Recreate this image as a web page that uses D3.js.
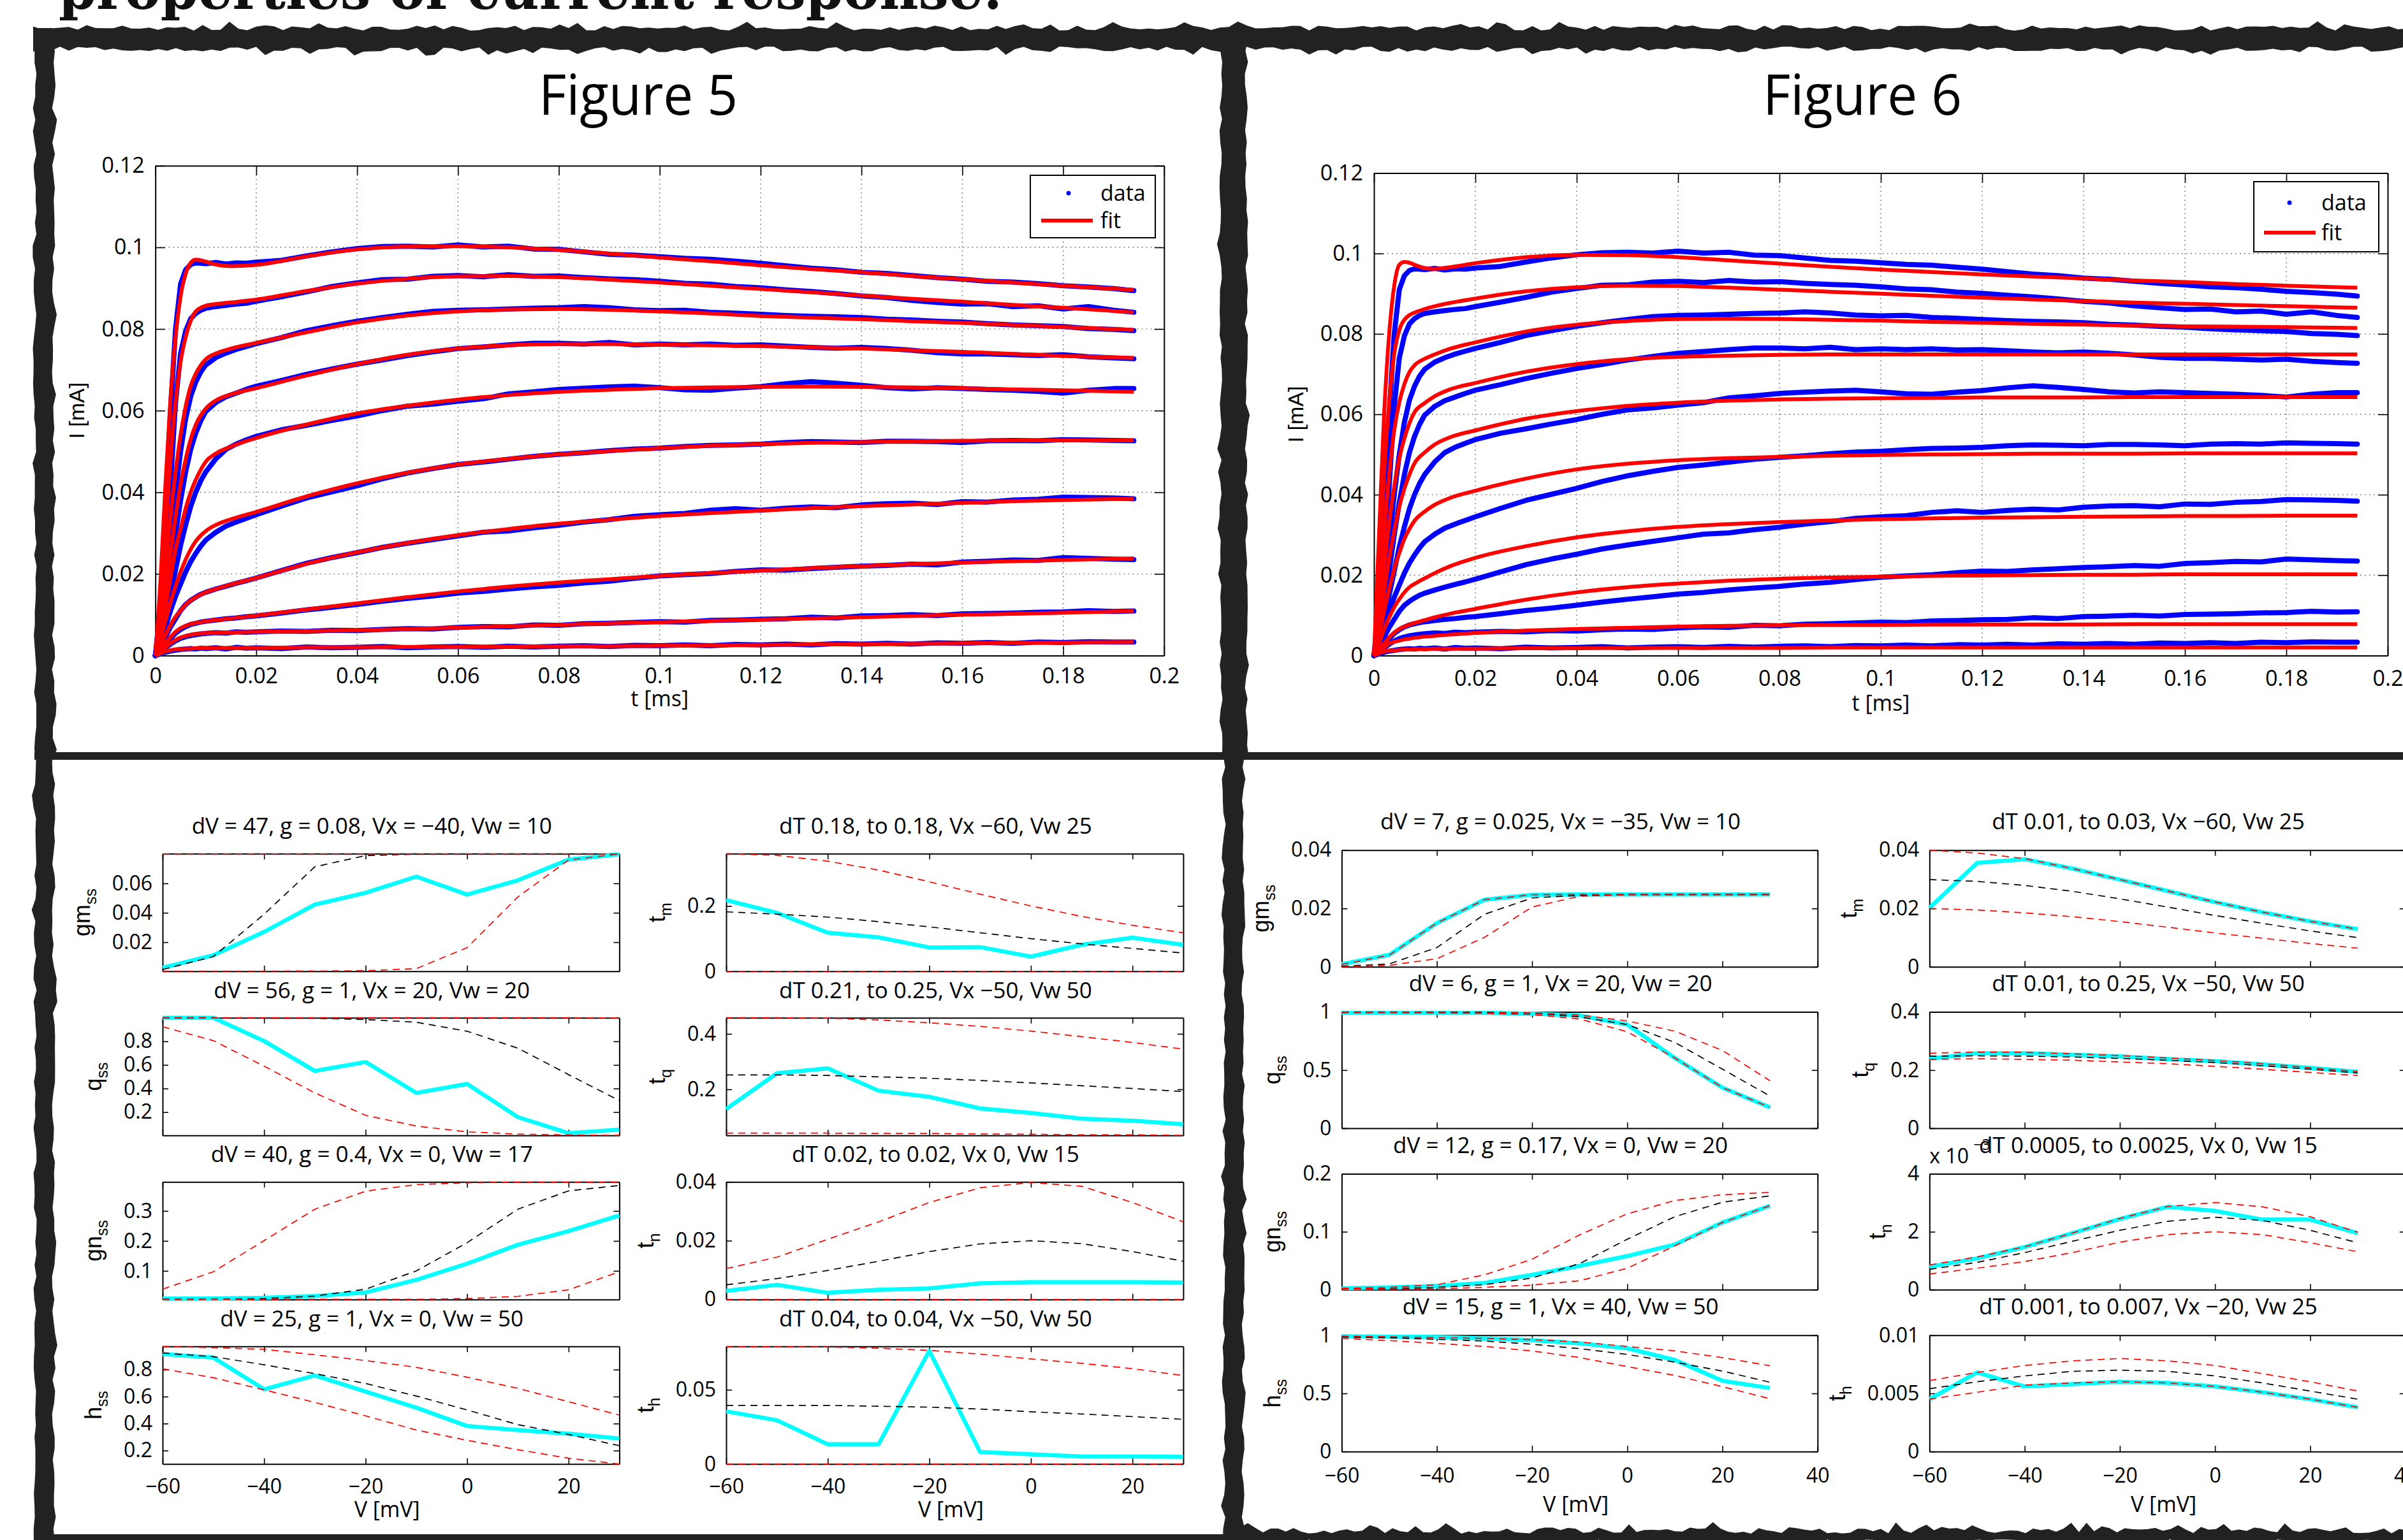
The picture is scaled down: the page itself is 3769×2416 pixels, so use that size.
<!DOCTYPE html>
<html><head><meta charset="utf-8">
<script src="https://cdn.jsdelivr.net/npm/d3@7"></script>
<style>html,body{margin:0;padding:0;background:#fff;overflow:hidden;}svg{display:block;}</style>
</head><body>
<svg id="chart" width="3769" height="2416"></svg>
<script>
// ======================= DATA =======================
const pageTitle = "properties of current response:";
const figTitles = ["Figure 5", "Figure 6"];
const legendLabels = ["data", "fit"];
const tTicks = [0, 0.02, 0.04, 0.06, 0.08, 0.1, 0.12, 0.14, 0.16, 0.18, 0.2];
const iTicks = [0, 0.02, 0.04, 0.06, 0.08, 0.1, 0.12];

// time grid of the measured traces
const timeData = [0, 0.001, 0.002, 0.003, 0.004, 0.005, 0.006, 0.007, 0.008, 0.009, 0.01, 0.012, 0.014, 0.016, 0.018, 0.02,
  0.025, 0.03, 0.035, 0.04, 0.045, 0.05, 0.055, 0.06, 0.065, 0.07, 0.075, 0.08, 0.085, 0.09, 0.095, 0.1, 0.105, 0.11, 0.115, 0.12, 0.125, 0.13, 0.135, 0.14, 0.145, 0.15, 0.155, 0.16, 0.165, 0.17, 0.175, 0.18, 0.185, 0.19,
  0.194];
// measured current traces (same data in both figures)
const data1 = [0, 0.012, 0.035, 0.060, 0.080, 0.091, 0.0945, 0.0958, 0.0962, 0.0961, 0.0960, 0.0963, 0.0959, 0.0962, 0.0961, 0.0964,
  0.0968, 0.0979, 0.0989, 0.0997, 0.1002, 0.1003, 0.1001, 0.1006, 0.1001, 0.1003, 0.0996, 0.0995, 0.0989, 0.0983, 0.0981, 0.0977, 0.0973, 0.0971, 0.0966, 0.0961, 0.0955, 0.0949, 0.0945, 0.0939, 0.0936, 0.0931, 0.0926, 0.0922, 0.0917, 0.0915, 0.0911, 0.0906, 0.0903, 0.0899,
  0.0894];
const data2 = [0, 0.008, 0.022, 0.042, 0.062, 0.074, 0.0795, 0.0825, 0.0838, 0.0846, 0.0851, 0.0855, 0.0858, 0.0861, 0.0863, 0.0868,
  0.0879, 0.0891, 0.0904, 0.0913, 0.0921, 0.0922, 0.0929, 0.0931, 0.0928, 0.0933, 0.0929, 0.0930, 0.0926, 0.0923, 0.0921, 0.0917, 0.0912, 0.0910, 0.0904, 0.0901, 0.0896, 0.0892, 0.0887, 0.0881, 0.0877, 0.0870, 0.0865, 0.0861, 0.0862, 0.0855, 0.0857, 0.0849, 0.0855, 0.0846,
  0.0841];
const data3 = [0, 0.006, 0.016, 0.028, 0.040, 0.050, 0.058, 0.0635, 0.0670, 0.0695, 0.0712, 0.0730, 0.0741, 0.0750, 0.0757, 0.0764,
  0.0779, 0.0796, 0.0808, 0.0819, 0.0828, 0.0836, 0.0843, 0.0846, 0.0847, 0.0849, 0.0851, 0.0852, 0.0855, 0.0852, 0.0847, 0.0845, 0.0846, 0.0841, 0.0839, 0.0836, 0.0833, 0.0831, 0.0830, 0.0828, 0.0824, 0.0822, 0.0819, 0.0817, 0.0813, 0.0810, 0.0808, 0.0806, 0.0801, 0.0799,
  0.0796];
const data4 = [0, 0.005, 0.012, 0.021, 0.030, 0.038, 0.045, 0.0505, 0.0545, 0.0575, 0.0598, 0.0620, 0.0634, 0.0643, 0.0652, 0.0660,
  0.0674, 0.0689, 0.0702, 0.0714, 0.0724, 0.0735, 0.0744, 0.0752, 0.0756, 0.0761, 0.0765, 0.0765, 0.0763, 0.0767, 0.0761, 0.0763, 0.0761, 0.0763, 0.0760, 0.0761, 0.0758, 0.0755, 0.0753, 0.0755, 0.0752, 0.0748, 0.0742, 0.0739, 0.0739, 0.0737, 0.0735, 0.0737, 0.0732, 0.0729,
  0.0727];
const data5 = [0, 0.004, 0.009, 0.015, 0.021, 0.027, 0.032, 0.0365, 0.0400, 0.0428, 0.0450, 0.0482, 0.0505, 0.0518, 0.0528, 0.0537,
  0.0553, 0.0564, 0.0576, 0.0587, 0.0600, 0.0611, 0.0616, 0.0623, 0.0629, 0.0641, 0.0646, 0.0652, 0.0655, 0.0658, 0.0660, 0.0656, 0.0651, 0.0650, 0.0655, 0.0659, 0.0666, 0.0671, 0.0667, 0.0662, 0.0656, 0.0653, 0.0656, 0.0654, 0.0652, 0.0650, 0.0647, 0.0643, 0.0650, 0.0654,
  0.0654];
const data6 = [0, 0.003, 0.007, 0.011, 0.0145, 0.0175, 0.0205, 0.023, 0.025, 0.0268, 0.0283, 0.0302, 0.0317, 0.0327, 0.0336, 0.0345,
  0.0366, 0.0386, 0.0401, 0.0416, 0.0433, 0.0447, 0.0458, 0.0468, 0.0474, 0.0481, 0.0488, 0.0493, 0.0497, 0.0502, 0.0506, 0.0508, 0.0512, 0.0515, 0.0516, 0.0518, 0.0522, 0.0524, 0.0523, 0.0522, 0.0525, 0.0525, 0.0524, 0.0522, 0.0526, 0.0527, 0.0526, 0.0529, 0.0528, 0.0527,
  0.0526];
const data7 = [0, 0.002, 0.0045, 0.007, 0.009, 0.011, 0.0125, 0.0135, 0.0143, 0.0150, 0.0155, 0.0163, 0.0170, 0.0177, 0.0183, 0.0190,
  0.0208, 0.0226, 0.0240, 0.0252, 0.0265, 0.0275, 0.0284, 0.0293, 0.0302, 0.0305, 0.0313, 0.0319, 0.0327, 0.0333, 0.0341, 0.0345, 0.0348, 0.0356, 0.0360, 0.0356, 0.0361, 0.0364, 0.0362, 0.0369, 0.0372, 0.0373, 0.0370, 0.0377, 0.0376, 0.0381, 0.0383, 0.0388, 0.0387, 0.0386,
  0.0384];
const data8 = [0, 0.0012, 0.0028, 0.0042, 0.0055, 0.0064, 0.0071, 0.0076, 0.0079, 0.0082, 0.0084, 0.0087, 0.0090, 0.0092, 0.0095, 0.0097,
  0.0104, 0.0112, 0.0118, 0.0125, 0.0133, 0.0140, 0.0146, 0.0153, 0.0157, 0.0163, 0.0168, 0.0172, 0.0178, 0.0182, 0.0189, 0.0195, 0.0198, 0.0201, 0.0206, 0.0210, 0.0209, 0.0213, 0.0216, 0.0219, 0.0221, 0.0224, 0.0222, 0.0229, 0.0231, 0.0234, 0.0233, 0.0240, 0.0238, 0.0236,
  0.0235];
const data9 = [0, 0.0009, 0.0019, 0.0028, 0.0036, 0.0042, 0.0046, 0.0049, 0.0051, 0.0053, 0.0054, 0.0056, 0.0055, 0.0058, 0.0057, 0.0058,
  0.0060, 0.0059, 0.0062, 0.0061, 0.0064, 0.0066, 0.0065, 0.0069, 0.0071, 0.0070, 0.0075, 0.0074, 0.0078, 0.0079, 0.0081, 0.0083, 0.0082, 0.0086, 0.0087, 0.0089, 0.0090, 0.0094, 0.0092, 0.0097, 0.0098, 0.0100, 0.0098, 0.0102, 0.0103, 0.0104, 0.0106, 0.0107, 0.0110, 0.0108,
  0.0109];
const data10 = [0, 0.0004, 0.0008, 0.0011, 0.0013, 0.0015, 0.0016, 0.0017, 0.0016, 0.0018, 0.0017, 0.0019, 0.0016, 0.0020, 0.0018, 0.0019,
  0.0017, 0.0021, 0.0019, 0.0020, 0.0022, 0.0019, 0.0021, 0.0022, 0.0020, 0.0023, 0.0021, 0.0023, 0.0024, 0.0022, 0.0025, 0.0024, 0.0026, 0.0024, 0.0027, 0.0026, 0.0028, 0.0026, 0.0029, 0.0028, 0.0030, 0.0028, 0.0031, 0.0030, 0.0032, 0.0030, 0.0033, 0.0032, 0.0034, 0.0033,
  0.0033];

// time grid of the fitted curves
const timeFit = [0, 0.001, 0.002, 0.003, 0.004, 0.005, 0.006, 0.007, 0.008, 0.01, 0.012, 0.015, 0.02, 0.03, 0.04, 0.05, 0.06, 0.07, 0.08, 0.09, 0.1, 0.11, 0.12, 0.13, 0.14, 0.15, 0.16, 0.17, 0.18, 0.194];
// Figure 5 fits
const fitA1 = [0, 0.018, 0.042, 0.063, 0.078, 0.088, 0.0935, 0.0962, 0.0970, 0.0965, 0.0958, 0.0954, 0.0957, 0.0978, 0.0995, 0.1002, 0.1003, 0.1000, 0.0994, 0.0985, 0.0975, 0.0966, 0.0956, 0.0947, 0.0939, 0.0930, 0.0922, 0.0914, 0.0906, 0.0896];
const fitA2 = [0, 0.012, 0.030, 0.048, 0.062, 0.072, 0.078, 0.082, 0.0843, 0.0857, 0.0861, 0.0865, 0.0872, 0.0893, 0.0911, 0.0923, 0.0929, 0.0930, 0.0927, 0.0921, 0.0914, 0.0906, 0.0898, 0.0890, 0.0882, 0.0874, 0.0867, 0.0859, 0.0852, 0.0841];
const fitA3 = [0, 0.008, 0.021, 0.034, 0.045, 0.054, 0.061, 0.066, 0.069, 0.0726, 0.0740, 0.0752, 0.0766, 0.0792, 0.0816, 0.0833, 0.0843, 0.0848, 0.0849, 0.0847, 0.0843, 0.0838, 0.0832, 0.0828, 0.0824, 0.0819, 0.0815, 0.0810, 0.0805, 0.0798];
const fitA4 = [0, 0.006, 0.015, 0.025, 0.034, 0.042, 0.048, 0.053, 0.0565, 0.0605, 0.0625, 0.0640, 0.0655, 0.0686, 0.0714, 0.0737, 0.0752, 0.0760, 0.0763, 0.0763, 0.0762, 0.0760, 0.0758, 0.0755, 0.0752, 0.0748, 0.0744, 0.0739, 0.0734, 0.0729];
const fitA5 = [0, 0.005, 0.012, 0.019, 0.026, 0.031, 0.036, 0.040, 0.043, 0.0475, 0.0495, 0.0512, 0.0533, 0.0566, 0.0593, 0.0612, 0.0627, 0.0638, 0.0646, 0.0651, 0.0655, 0.0657, 0.0658, 0.0659, 0.0658, 0.0657, 0.0655, 0.0652, 0.0650, 0.0646];
const fitA6 = [0, 0.004, 0.0085, 0.013, 0.017, 0.0205, 0.0235, 0.026, 0.028, 0.0305, 0.032, 0.0334, 0.0352, 0.0390, 0.0422, 0.0448, 0.0468, 0.0482, 0.0493, 0.0501, 0.0508, 0.0514, 0.0518, 0.0521, 0.0523, 0.0525, 0.0526, 0.0527, 0.0527, 0.0527];
const fitA7 = [0, 0.0025, 0.005, 0.0075, 0.0095, 0.011, 0.0125, 0.0135, 0.0143, 0.0155, 0.0163, 0.0174, 0.0190, 0.0225, 0.0253, 0.0276, 0.0295, 0.0310, 0.0323, 0.0333, 0.0342, 0.0349, 0.0355, 0.0361, 0.0366, 0.0370, 0.0374, 0.0378, 0.0381, 0.0384];
const fitA8 = [0, 0.0015, 0.003, 0.0045, 0.0058, 0.0067, 0.0073, 0.0077, 0.0080, 0.0084, 0.0087, 0.0091, 0.0098, 0.0113, 0.0128, 0.0143, 0.0157, 0.0169, 0.0179, 0.0187, 0.0195, 0.0202, 0.0208, 0.0214, 0.0219, 0.0224, 0.0228, 0.0231, 0.0234, 0.0238];
const fitA9 = [0, 0.001, 0.002, 0.003, 0.0038, 0.0044, 0.0048, 0.0051, 0.0053, 0.0055, 0.0056, 0.0057, 0.0058, 0.0060, 0.0062, 0.0065, 0.0068, 0.0072, 0.0075, 0.0079, 0.0082, 0.0085, 0.0088, 0.0091, 0.0094, 0.0097, 0.0100, 0.0102, 0.0105, 0.0109];
const fitA10 = [0, 0.0005, 0.001, 0.0013, 0.0015, 0.0016, 0.0017, 0.0017, 0.0018, 0.0018, 0.0018, 0.0019, 0.0019, 0.0020, 0.0020, 0.0021, 0.0021, 0.0022, 0.0023, 0.0023, 0.0024, 0.0025, 0.0026, 0.0027, 0.0028, 0.0029, 0.0030, 0.0031, 0.0032, 0.0033];
// Figure 6 fits
const fitB1 = [0, 0.030, 0.060, 0.080, 0.092, 0.0972, 0.0979, 0.0977, 0.0972, 0.0964, 0.0962, 0.0966, 0.0976, 0.0991, 0.0997, 0.0996, 0.0991, 0.0983, 0.0975, 0.0967, 0.0960, 0.0954, 0.0948, 0.0943, 0.0938, 0.0933, 0.0929, 0.0924, 0.0920, 0.0915];
const fitB2 = [0, 0.020, 0.045, 0.063, 0.075, 0.081, 0.0835, 0.0847, 0.0853, 0.0862, 0.0869, 0.0877, 0.0888, 0.0906, 0.0916, 0.0920, 0.0919, 0.0915, 0.0910, 0.0905, 0.0900, 0.0895, 0.0890, 0.0886, 0.0882, 0.0878, 0.0875, 0.0872, 0.0869, 0.0865];
const fitB3 = [0, 0.012, 0.030, 0.045, 0.056, 0.063, 0.0675, 0.0705, 0.0722, 0.0738, 0.0749, 0.0763, 0.0779, 0.0806, 0.0823, 0.0832, 0.0837, 0.0838, 0.0837, 0.0835, 0.0833, 0.0830, 0.0828, 0.0825, 0.0823, 0.0821, 0.0819, 0.0818, 0.0817, 0.0815];
const fitB4 = [0, 0.010, 0.022, 0.033, 0.042, 0.049, 0.054, 0.0578, 0.0605, 0.0628, 0.0645, 0.0662, 0.0678, 0.0706, 0.0725, 0.0737, 0.0743, 0.0746, 0.0748, 0.0749, 0.0749, 0.0749, 0.0749, 0.0749, 0.0749, 0.0749, 0.0749, 0.0749, 0.0749, 0.0749];
const fitB5 = [0, 0.007, 0.016, 0.024, 0.031, 0.037, 0.0415, 0.045, 0.0478, 0.0505, 0.0525, 0.0543, 0.0560, 0.0589, 0.0608, 0.0621, 0.0629, 0.0634, 0.0637, 0.0639, 0.0640, 0.0641, 0.0642, 0.0642, 0.0642, 0.0643, 0.0643, 0.0643, 0.0643, 0.0643];
const fitB6 = [0, 0.005, 0.011, 0.0165, 0.0215, 0.0255, 0.029, 0.0315, 0.0335, 0.0358, 0.0375, 0.0392, 0.0410, 0.0440, 0.0463, 0.0477, 0.0486, 0.0491, 0.0494, 0.0497, 0.0499, 0.0500, 0.0501, 0.0502, 0.0502, 0.0502, 0.0503, 0.0503, 0.0503, 0.0503];
const fitB7 = [0, 0.003, 0.0065, 0.0095, 0.012, 0.014, 0.0157, 0.017, 0.0178, 0.0192, 0.0205, 0.0222, 0.0243, 0.0272, 0.0294, 0.0309, 0.0320, 0.0327, 0.0332, 0.0336, 0.0339, 0.0341, 0.0343, 0.0344, 0.0345, 0.0346, 0.0347, 0.0347, 0.0348, 0.0348];
const fitB8 = [0, 0.0015, 0.003, 0.0045, 0.0057, 0.0066, 0.0072, 0.0077, 0.0081, 0.0088, 0.0095, 0.0104, 0.0116, 0.0139, 0.0157, 0.0170, 0.0179, 0.0186, 0.0191, 0.0194, 0.0196, 0.0198, 0.0199, 0.0200, 0.0201, 0.0201, 0.0202, 0.0202, 0.0202, 0.0202];
const fitB9 = [0, 0.001, 0.002, 0.003, 0.0034, 0.0037, 0.0040, 0.0042, 0.0044, 0.0047, 0.0049, 0.0052, 0.0056, 0.0062, 0.0066, 0.0069, 0.0072, 0.0074, 0.0075, 0.0076, 0.0076, 0.0077, 0.0077, 0.0077, 0.0077, 0.0078, 0.0078, 0.0078, 0.0078, 0.0078];
const fitB10 = [0, 0.0005, 0.001, 0.0012, 0.0013, 0.0014, 0.0015, 0.0015, 0.0016, 0.0016, 0.0017, 0.0017, 0.0017, 0.0018, 0.0018, 0.0019, 0.0019, 0.0019, 0.0019, 0.0020, 0.0020, 0.0020, 0.0020, 0.0020, 0.0020, 0.0020, 0.0020, 0.0020, 0.0020, 0.0020];

// steady-state / time-constant panels
const volts = [-60, -50, -40, -30, -20, -10, 0, 10, 20, 30];
const vTicks5 = [-60, -40, -20, 0, 20];
const vTicks6 = [-60, -40, -20, 0, 20, 40];

const gm5Cyan = [0.0026, 0.0111, 0.0270, 0.0456, 0.0536, 0.0646, 0.0524, 0.0621, 0.0762, 0.0798];
const gm5Black = [0.0014, 0.0102, 0.0390, 0.0713, 0.0789, 0.0799, 0.0800, 0.0800, 0.0800, 0.0800];
const gm5RedHi = [0.0800, 0.0800, 0.0800, 0.0800, 0.0800, 0.0800, 0.0800, 0.0800, 0.0800, 0.0800];
const gm5RedLo = [0.0003, 0.0003, 0.0003, 0.0004, 0.0006, 0.0020, 0.0163, 0.0508, 0.0759, 0.0800];
const q5Cyan = [1.000, 1.000, 0.803, 0.549, 0.625, 0.363, 0.439, 0.158, 0.022, 0.052];
const q5Black = [1.000, 1.000, 0.997, 0.996, 0.985, 0.962, 0.886, 0.742, 0.518, 0.298];
const q5RedHi = [1.000, 1.000, 1.000, 1.000, 1.000, 1.000, 1.000, 1.000, 1.000, 0.999];
const q5RedLo = [0.924, 0.806, 0.590, 0.363, 0.173, 0.082, 0.033, 0.014, 0.006, 0.003];
const gn5Cyan = [0.0075, 0.0080, 0.0100, 0.0160, 0.0280, 0.0700, 0.1240, 0.1870, 0.2330, 0.2850];
const gn5Black = [0.0050, 0.0055, 0.0075, 0.0160, 0.0390, 0.1000, 0.1940, 0.3060, 0.3670, 0.3850];
const gn5RedHi = [0.0390, 0.0970, 0.2010, 0.3060, 0.3660, 0.3880, 0.3940, 0.3960, 0.3960, 0.3960];
const gn5RedLo = [0.0050, 0.0050, 0.0050, 0.0050, 0.0050, 0.0050, 0.0075, 0.0150, 0.0370, 0.0970];
const h5Cyan = [0.916, 0.889, 0.654, 0.757, 0.637, 0.518, 0.382, 0.352, 0.325, 0.289];
const h5Black = [0.923, 0.896, 0.836, 0.770, 0.697, 0.604, 0.501, 0.392, 0.319, 0.236];
const h5RedHi = [0.972, 0.963, 0.950, 0.910, 0.867, 0.817, 0.744, 0.661, 0.562, 0.463];
const h5RedLo = [0.806, 0.740, 0.650, 0.557, 0.457, 0.352, 0.276, 0.206, 0.143, 0.100];
const tm5Cyan = [0.218, 0.179, 0.118, 0.104, 0.073, 0.074, 0.045, 0.081, 0.103, 0.081];
const tm5Black = [0.182, 0.175, 0.166, 0.152, 0.136, 0.118, 0.100, 0.084, 0.070, 0.056];
const tm5RedHi = [0.360, 0.355, 0.337, 0.310, 0.274, 0.236, 0.200, 0.168, 0.141, 0.118];
const tm5RedLo = [0, 0, 0, 0, 0, 0, 0, 0, 0, 0];
const tq5Cyan = [0.129, 0.258, 0.276, 0.195, 0.173, 0.131, 0.115, 0.094, 0.087, 0.074];
const tq5Black = [0.252, 0.252, 0.250, 0.245, 0.240, 0.232, 0.223, 0.213, 0.203, 0.192];
const tq5RedHi = [0.458, 0.458, 0.457, 0.450, 0.440, 0.427, 0.410, 0.390, 0.369, 0.345];
const tq5RedLo = [0.042, 0.042, 0.042, 0.041, 0.041, 0.039, 0.038, 0.036, 0.036, 0.034];
const tn5Cyan = [0.0029, 0.0050, 0.0023, 0.0033, 0.0038, 0.0055, 0.0059, 0.0059, 0.0059, 0.0058];
const tn5Black = [0.0050, 0.0071, 0.0099, 0.0130, 0.0163, 0.0189, 0.0200, 0.0190, 0.0163, 0.0130];
const tn5RedHi = [0.0105, 0.0144, 0.0205, 0.0264, 0.0330, 0.0380, 0.0398, 0.0385, 0.0330, 0.0264];
const tn5RedLo = [0, 0, 0, 0, 0, 0, 0, 0, 0, 0];
const th5Cyan = [0.0355, 0.0295, 0.0133, 0.0133, 0.0762, 0.0081, 0.0066, 0.0051, 0.0051, 0.0048];
const th5Black = [0.0395, 0.0395, 0.0395, 0.0389, 0.0383, 0.0370, 0.0352, 0.0337, 0.0319, 0.0301];
const th5RedHi = [0.0790, 0.0790, 0.0788, 0.0780, 0.0765, 0.0740, 0.0708, 0.0678, 0.0642, 0.0596];
const th5RedLo = [0, 0, 0, 0, 0, 0, 0, 0, 0, 0];

const gm6Cyan = [0.0009, 0.0041, 0.0150, 0.0230, 0.0247, 0.0248, 0.0248, 0.0248, 0.0248, 0.0248];
const gm6Black = [0.0002, 0.0010, 0.0066, 0.0180, 0.0236, 0.0245, 0.0248, 0.0248, 0.0248, 0.0248];
const gm6RedHi = [0.0008, 0.0040, 0.0150, 0.0230, 0.0247, 0.0248, 0.0248, 0.0248, 0.0248, 0.0248];
const gm6RedLo = [0.0000, 0.0005, 0.0028, 0.0101, 0.0205, 0.0242, 0.0247, 0.0248, 0.0248, 0.0248];
const q6Cyan = [0.992, 0.992, 0.992, 0.992, 0.985, 0.970, 0.892, 0.604, 0.350, 0.180];
const q6Black = [0.996, 0.996, 0.995, 0.994, 0.990, 0.958, 0.892, 0.738, 0.508, 0.277];
const q6RedHi = [1.000, 1.000, 1.000, 1.000, 0.992, 0.973, 0.923, 0.835, 0.669, 0.408];
const q6RedLo = [0.996, 0.995, 0.993, 0.988, 0.977, 0.940, 0.830, 0.604, 0.350, 0.180];
const gn6Cyan = [0.0023, 0.0039, 0.0062, 0.0116, 0.0255, 0.0410, 0.0580, 0.0780, 0.1160, 0.1450];
const gn6Black = [0.0010, 0.0015, 0.0040, 0.0085, 0.0200, 0.0450, 0.0870, 0.1260, 0.1510, 0.1620];
const gn6RedHi = [0.0023, 0.0039, 0.0085, 0.0255, 0.0525, 0.0946, 0.1310, 0.1540, 0.1640, 0.1680];
const gn6RedLo = [0.0010, 0.0010, 0.0015, 0.0040, 0.0077, 0.0154, 0.0370, 0.0757, 0.1160, 0.1450];
const h6Cyan = [0.992, 0.988, 0.985, 0.973, 0.958, 0.931, 0.888, 0.788, 0.608, 0.546];
const h6Black = [0.985, 0.978, 0.965, 0.950, 0.923, 0.885, 0.835, 0.769, 0.692, 0.596];
const h6RedHi = [0.992, 0.988, 0.980, 0.973, 0.962, 0.942, 0.904, 0.865, 0.808, 0.738];
const h6RedLo = [0.973, 0.954, 0.931, 0.904, 0.865, 0.808, 0.731, 0.654, 0.558, 0.454];
const tm6Cyan = [0.0202, 0.0356, 0.0369, 0.0337, 0.0299, 0.0260, 0.0222, 0.0187, 0.0156, 0.0129];
const tm6Black = [0.0299, 0.0293, 0.0279, 0.0259, 0.0233, 0.0205, 0.0176, 0.0149, 0.0123, 0.0100];
const tm6RedHi = [0.0400, 0.0390, 0.0371, 0.0337, 0.0299, 0.0260, 0.0222, 0.0187, 0.0156, 0.0129];
const tm6RedLo = [0.0200, 0.0195, 0.0185, 0.0172, 0.0155, 0.0136, 0.0116, 0.0098, 0.0080, 0.0064];
const tq6Cyan = [0.239, 0.258, 0.258, 0.253, 0.247, 0.238, 0.231, 0.220, 0.208, 0.194];
const tq6Black = [0.248, 0.249, 0.248, 0.245, 0.240, 0.234, 0.226, 0.215, 0.203, 0.190];
const tq6RedHi = [0.258, 0.262, 0.261, 0.256, 0.250, 0.242, 0.233, 0.222, 0.208, 0.195];
const tq6RedLo = [0.237, 0.239, 0.237, 0.234, 0.228, 0.222, 0.213, 0.203, 0.192, 0.181];
const tn6Cyan = [0.00079, 0.00108, 0.00147, 0.00195, 0.00244, 0.00286, 0.00272, 0.00242, 0.00242, 0.00195];
const tn6Black = [0.00070, 0.00094, 0.00128, 0.00167, 0.00205, 0.00236, 0.00250, 0.00239, 0.00205, 0.00162];
const tn6RedHi = [0.00085, 0.00113, 0.00148, 0.00195, 0.00246, 0.00287, 0.00301, 0.00286, 0.00252, 0.00198];
const tn6RedLo = [0.00054, 0.00074, 0.00097, 0.00128, 0.00164, 0.00190, 0.00200, 0.00190, 0.00162, 0.00131];
const th6Cyan = [0.0045, 0.0068, 0.0056, 0.0058, 0.0060, 0.0059, 0.0056, 0.0051, 0.0045, 0.0038];
const th6Black = [0.0054, 0.0060, 0.0065, 0.0069, 0.0070, 0.0069, 0.0065, 0.0059, 0.0052, 0.0045];
const th6RedHi = [0.0061, 0.0068, 0.0074, 0.0078, 0.0080, 0.0078, 0.0074, 0.0067, 0.0060, 0.0052];
const th6RedLo = [0.0045, 0.0051, 0.0057, 0.0059, 0.0060, 0.0059, 0.0056, 0.0051, 0.0045, 0.0038];

const titles5 = ["dV = 47, g = 0.08, Vx = \u221240, Vw = 10", "dV = 56, g = 1, Vx = 20, Vw = 20", "dV = 40, g = 0.4, Vx = 0, Vw = 17", "dV = 25, g = 1, Vx = 0, Vw = 50",
  "dT 0.18, to 0.18, Vx \u221260, Vw 25", "dT 0.21, to 0.25, Vx \u221250, Vw 50", "dT 0.02, to 0.02, Vx 0, Vw 15", "dT 0.04, to 0.04, Vx \u221250, Vw 50"];
const titles6 = ["dV = 7, g = 0.025, Vx = \u221235, Vw = 10", "dV = 6, g = 1, Vx = 20, Vw = 20", "dV = 12, g = 0.17, Vx = 0, Vw = 20", "dV = 15, g = 1, Vx = 40, Vw = 50",
  "dT 0.01, to 0.03, Vx \u221260, Vw 25", "dT 0.01, to 0.25, Vx \u221250, Vw 50", "dT 0.0005, to 0.0025, Vx 0, Vw 15", "dT 0.001, to 0.007, Vx \u221220, Vw 25"];
const yLabels = [["gm", "ss"], ["q", "ss"], ["gn", "ss"], ["h", "ss"], ["t", "m"], ["t", "q"], ["t", "n"], ["t", "h"]];

// ======================= DRAWING =======================
const svg = d3.select('#chart');
const FONT = "'Open Sans', 'DejaVu Sans', sans-serif";
const LFONT = "'Liberation Sans', Arial, sans-serif";
const BORDER = '#222';
const fmtNum = v => String(+v.toFixed(6)).replace('-', '\u2212');

// ---- decorative hand-drawn frame (deterministic roughness)
function hash(i, s) { const v = Math.sin(i * 12.9898 + s * 78.233) * 43758.5453; return v - Math.floor(v); }
function bandH(x0, x1, yT, yB, amp, step, seed) {
  const top = [], bot = [], n = Math.ceil((x1 - x0) / step);
  for (let i = 0; i <= n; i++) {
    const x = x0 + (x1 - x0) * i / n;
    let dt = (hash(i, seed) - 0.5) * 2 * amp; if (hash(i, seed + 3) > 0.86) dt -= amp * 1.6;
    let db = (hash(i, seed + 5) - 0.5) * 2 * amp; if (hash(i, seed + 9) > 0.86) db += amp * 1.6;
    top.push([x, yT + dt]); bot.push([x, yB + db]);
  }
  return 'M' + top.concat(bot.reverse()).map(p => p[0].toFixed(1) + ',' + p[1].toFixed(1)).join('L') + 'Z';
}
function bandV(y0, y1, xL, xR, amp, step, seed) {
  const l = [], r = [], n = Math.ceil((y1 - y0) / step);
  for (let i = 0; i <= n; i++) {
    const y = y0 + (y1 - y0) * i / n;
    let dl = (hash(i, seed) - 0.5) * 2 * amp; if (hash(i, seed + 3) > 0.9) dl -= amp * 1.5;
    let dr = (hash(i, seed + 5) - 0.5) * 2 * amp; if (hash(i, seed + 9) > 0.9) dr += amp * 1.5;
    l.push([xL + dl, y]); r.push([xR + dr, y]);
  }
  return 'M' + l.concat(r.reverse()).map(p => p[0].toFixed(1) + ',' + p[1].toFixed(1)).join('L') + 'Z';
}
const frame = svg.append('g').attr('fill', BORDER);
frame.append('path').attr('d', bandH(52, 3775, 44, 77, 4, 14, 1));
frame.append('path').attr('d', bandV(44, 2416, 55, 84, 2.5, 18, 2));
frame.append('path').attr('d', bandV(44, 1186, 1915, 1955, 2.5, 18, 3));
frame.append('path').attr('d', bandV(1186, 2416, 1920, 1950, 2.5, 18, 4));
frame.append('rect').attr('x', 54).attr('y', 1180).attr('width', 3715).attr('height', 12);
frame.append('rect').attr('x', 54).attr('y', 2407).attr('width', 1900).attr('height', 9);
frame.append('path').attr('d', bandH(1945, 3775, 2401, 2420, 5, 12, 5));

svg.append('text').attr('x', 92).attr('y', 14).attr('font-family', "'DejaVu Serif', serif").attr('font-weight', 'bold')
  .attr('font-size', 88).attr('textLength', 1481).attr('lengthAdjust', 'spacingAndGlyphs').attr('fill', '#111').text(pageTitle);

function styleAxis(sel, fs) {
  sel.attr('font-family', FONT).attr('font-size', fs);
  sel.select('.domain').attr('stroke', '#000').attr('stroke-width', 2);
  sel.selectAll('.tick line').attr('stroke', '#000').attr('stroke-width', 1.6);
  sel.selectAll('.tick text').attr('fill', '#000');
}
function yLabel(g, axisG, L, cy, main, sub, fs, subFs, gap, font) {
  const bb = axisG.node().getBBox();
  const tickLeft = L + bb.x;
  const t = g.append('text').attr('font-family', font).attr('font-size', fs).attr('text-anchor', 'middle').attr('fill', '#000');
  t.append('tspan').text(main);
  if (sub) t.append('tspan').attr('font-size', subFs).attr('dy', fs * 0.28).text(sub);
  const tb = t.node().getBBox();
  const tx = tickLeft - gap - (tb.y + tb.height);
  t.attr('transform', `translate(${tx},${cy}) rotate(-90)`);
}

// ---- big current plots
function drawTop(o) {
  const g = svg.append('g');
  const x = d3.scaleLinear().domain([0, 0.2]).range([o.L, o.R]);
  const y = d3.scaleLinear().domain([0, 0.12]).range([o.B, o.T]);
  g.append('text').attr('x', o.titleX).attr('y', 180).attr('text-anchor', 'middle').attr('font-family', FONT)
    .attr('font-size', 88).attr('textLength', 312).attr('lengthAdjust', 'spacingAndGlyphs').attr('fill', '#000').text(o.title);
  const grid = s => s.attr('stroke', '#555').attr('stroke-width', 1.4).attr('stroke-dasharray', '1.5 5.5');
  g.append('g').selectAll('line').data(tTicks.filter(v => v > 0 && v < 0.2)).join('line')
    .attr('x1', d => x(d)).attr('x2', d => x(d)).attr('y1', o.T).attr('y2', o.B).call(grid);
  g.append('g').selectAll('line').data(iTicks.filter(v => v > 0 && v < 0.12)).join('line')
    .attr('y1', d => y(d)).attr('y2', d => y(d)).attr('x1', o.L).attr('x2', o.R).call(grid);
  const tl = 15;
  const gB = g.append('g').attr('transform', `translate(0,${o.B})`)
    .call(d3.axisBottom(x).tickValues(tTicks).tickFormat(fmtNum).tickSizeInner(-tl).tickSizeOuter(0).tickPadding(o.xPad));
  const gT = g.append('g').attr('transform', `translate(0,${o.T})`)
    .call(d3.axisTop(x).tickValues(tTicks).tickFormat(() => '').tickSizeInner(-tl).tickSizeOuter(0));
  const gL = g.append('g').attr('transform', `translate(${o.L},0)`)
    .call(d3.axisLeft(y).tickValues(iTicks).tickFormat(fmtNum).tickSizeInner(-tl).tickSizeOuter(0).tickPadding(17));
  const gR = g.append('g').attr('transform', `translate(${o.R},0)`)
    .call(d3.axisRight(y).tickValues(iTicks).tickFormat(() => '').tickSizeInner(-tl).tickSizeOuter(0));
  [gB, gT, gL, gR].forEach(a => styleAxis(a, 34));
  const dl = d3.line().x(d => x(d[0])).y(d => y(d[1]));
  const dataCurves = [data1, data2, data3, data4, data5, data6, data7, data8, data9, data10];
  dataCurves.forEach(c => g.append('path')
    .attr('d', dl(timeData.map((t, i) => [t, c[i]]).filter(d => d[1] != null)))
    .attr('fill', 'none').attr('stroke', '#0000ff').attr('stroke-width', 8).attr('stroke-linejoin', 'round').attr('stroke-linecap', 'round'));
  const fl = d3.line().curve(d3.curveMonotoneX).x(d => x(d[0])).y(d => y(d[1]));
  o.fits.forEach(c => g.append('path')
    .attr('d', fl(timeFit.map((t, i) => [t, c[i]]).filter(d => d[1] != null)))
    .attr('fill', 'none').attr('stroke', '#ff0000').attr('stroke-width', 6).attr('stroke-linejoin', 'round'));
  g.append('text').attr('x', (o.L + o.R) / 2).attr('y', o.B + o.xLab).attr('text-anchor', 'middle')
    .attr('font-family', FONT).attr('font-size', 34).attr('fill', '#000').text('t [ms]');
  yLabel(g, gL, o.L, (o.T + o.B) / 2, 'I [mA]', null, 34, 0, 20, LFONT);
  // legend
  const lg = o.leg;
  g.append('rect').attr('x', lg.x).attr('y', lg.y).attr('width', lg.w).attr('height', lg.h)
    .attr('fill', '#fff').attr('stroke', '#000').attr('stroke-width', 2);
  g.append('circle').attr('cx', lg.x + lg.mx).attr('cy', lg.y + lg.r1).attr('r', 3.5).attr('fill', '#0000ff');
  g.append('text').attr('x', lg.x + lg.tx).attr('y', lg.y + lg.r1 + 12).attr('font-family', FONT).attr('font-size', 34).attr('fill', '#000').text(legendLabels[0]);
  g.append('line').attr('x1', lg.x + lg.l0).attr('x2', lg.x + lg.l1).attr('y1', lg.y + lg.r2).attr('y2', lg.y + lg.r2)
    .attr('stroke', '#ff0000').attr('stroke-width', 6);
  g.append('text').attr('x', lg.x + lg.tx).attr('y', lg.y + lg.r2 + 12).attr('font-family', FONT).attr('font-size', 34).attr('fill', '#000').text(legendLabels[1]);
}

drawTop({ L: 243.7, R: 1825.8, T: 260, B: 1028.4, xPad: 19, xLab: 80, title: figTitles[0], titleX: 1001,
  fits: [fitA1, fitA2, fitA3, fitA4, fitA5, fitA6, fitA7, fitA8, fitA9, fitA10],
  leg: { x: 1616, y: 275, w: 196, h: 98, mx: 60, r1: 28, tx: 110, l0: 17, l1: 98, r2: 71 } });
drawTop({ L: 2155, R: 3745, T: 271.6, B: 1028.4, xPad: 23, xLab: 87, title: figTitles[1], titleX: 2921,
  fits: [fitB1, fitB2, fitB3, fitB4, fitB5, fitB6, fitB7, fitB8, fitB9, fitB10],
  leg: { x: 3535, y: 285, w: 196, h: 110, mx: 56, r1: 33, tx: 106, l0: 16, l1: 97, r2: 80 } });

// ---- small panels
function drawPanel(o) {
  const g = svg.append('g');
  const x = d3.scaleLinear().domain(o.xDomain).range([o.L, o.R]);
  const y = d3.scaleLinear().domain(o.yDomain).range([o.B, o.T]);
  const tl = 9;
  const gB = g.append('g').attr('transform', `translate(0,${o.B})`)
    .call(d3.axisBottom(x).tickValues(o.xTicks).tickFormat(o.showX ? fmtNum : () => '').tickSizeInner(-tl).tickSizeOuter(0).tickPadding(o.xPad));
  const gT = g.append('g').attr('transform', `translate(0,${o.T})`)
    .call(d3.axisTop(x).tickValues(o.xTicks).tickFormat(() => '').tickSizeInner(-tl).tickSizeOuter(0));
  const gL = g.append('g').attr('transform', `translate(${o.L},0)`)
    .call(d3.axisLeft(y).tickValues(o.yTicks).tickFormat(o.yFmt || fmtNum).tickSizeInner(-tl).tickSizeOuter(0).tickPadding(16));
  const gR = g.append('g').attr('transform', `translate(${o.R},0)`)
    .call(d3.axisRight(y).tickValues(o.yTicks).tickFormat(() => '').tickSizeInner(-tl).tickSizeOuter(0));
  [gB, gT, gL, gR].forEach(a => styleAxis(a, 32));
  const ln = d3.line().x(d => x(d[0])).y(d => y(d[1]));
  const pts = arr => volts.map((v, i) => [v, arr[i]]);
  g.append('path').attr('d', ln(pts(o.cyan))).attr('fill', 'none').attr('stroke', '#00ffff').attr('stroke-width', 6.5).attr('stroke-linejoin', 'round');
  [[o.black, '#000000'], [o.redHi, '#ff0000'], [o.redLo, '#ff0000']].forEach(([arr, col]) =>
    g.append('path').attr('d', ln(pts(arr))).attr('fill', 'none').attr('stroke', col).attr('stroke-width', 1.7).attr('stroke-dasharray', '11 8'));
  g.append('text').attr('x', (o.L + o.R) / 2 - 30).attr('y', o.T - o.titleDy).attr('text-anchor', 'middle')
    .attr('font-family', FONT).attr('font-size', 35).attr('fill', '#000').text(o.title);
  yLabel(g, gL, o.L, (o.T + o.B) / 2, o.label[0], o.label[1], 36, 25, 20, LFONT);
  if (o.showX) g.append('text').attr('x', (o.L + o.R) / 2 - 6).attr('y', o.B + o.xLab).attr('text-anchor', 'middle')
    .attr('font-family', FONT).attr('font-size', 34).attr('fill', '#000').text('V [mV]');
  if (o.exp) {
    g.append('text').attr('x', o.L).attr('y', o.T - 17).attr('font-family', FONT).attr('font-size', 32).attr('fill', '#000').text('x 10');
    g.append('text').attr('x', o.L + 69).attr('y', o.T - 38).attr('font-family', FONT).attr('font-size', 23).attr('fill', '#000').text('\u22123');
  }
}

const panels5 = [
  { cyan: gm5Cyan, black: gm5Black, redHi: gm5RedHi, redLo: gm5RedLo, yDomain: [0.0002, 0.0802], yTicks: [0.02, 0.04, 0.06] },
  { cyan: q5Cyan, black: q5Black, redHi: q5RedHi, redLo: q5RedLo, yDomain: [0.003, 1.0], yTicks: [0.2, 0.4, 0.6, 0.8] },
  { cyan: gn5Cyan, black: gn5Black, redHi: gn5RedHi, redLo: gn5RedLo, yDomain: [0.0045, 0.397], yTicks: [0.1, 0.2, 0.3] },
  { cyan: h5Cyan, black: h5Black, redHi: h5RedHi, redLo: h5RedLo, yDomain: [0.1, 0.972], yTicks: [0.2, 0.4, 0.6, 0.8] },
  { cyan: tm5Cyan, black: tm5Black, redHi: tm5RedHi, redLo: tm5RedLo, yDomain: [0, 0.36], yTicks: [0, 0.2] },
  { cyan: tq5Cyan, black: tq5Black, redHi: tq5RedHi, redLo: tq5RedLo, yDomain: [0.034, 0.458], yTicks: [0.2, 0.4] },
  { cyan: tn5Cyan, black: tn5Black, redHi: tn5RedHi, redLo: tn5RedLo, yDomain: [0, 0.04], yTicks: [0, 0.02, 0.04] },
  { cyan: th5Cyan, black: th5Black, redHi: th5RedHi, redLo: th5RedLo, yDomain: [0, 0.0792], yTicks: [0, 0.05] }
];
const panels6 = [
  { cyan: gm6Cyan, black: gm6Black, redHi: gm6RedHi, redLo: gm6RedLo, yDomain: [0, 0.04], yTicks: [0, 0.02, 0.04] },
  { cyan: q6Cyan, black: q6Black, redHi: q6RedHi, redLo: q6RedLo, yDomain: [0, 1], yTicks: [0, 0.5, 1] },
  { cyan: gn6Cyan, black: gn6Black, redHi: gn6RedHi, redLo: gn6RedLo, yDomain: [0, 0.2], yTicks: [0, 0.1, 0.2] },
  { cyan: h6Cyan, black: h6Black, redHi: h6RedHi, redLo: h6RedLo, yDomain: [0, 1], yTicks: [0, 0.5, 1] },
  { cyan: tm6Cyan, black: tm6Black, redHi: tm6RedHi, redLo: tm6RedLo, yDomain: [0, 0.04], yTicks: [0, 0.02, 0.04] },
  { cyan: tq6Cyan, black: tq6Black, redHi: tq6RedHi, redLo: tq6RedLo, yDomain: [0, 0.4], yTicks: [0, 0.2, 0.4] },
  { cyan: tn6Cyan, black: tn6Black, redHi: tn6RedHi, redLo: tn6RedLo, yDomain: [0, 0.004], yTicks: [0, 0.002, 0.004], yFmt: v => fmtNum(v * 1000), exp: true },
  { cyan: th6Cyan, black: th6Black, redHi: th6RedHi, redLo: th6RedLo, yDomain: [0, 0.01], yTicks: [0, 0.005, 0.01] }
];

const lay5 = { cols: [[255, 971.4], [1139, 1855.9]], rows: [[1339.3, 1523.8], [1596.7, 1781.2], [1854.2, 2038.7], [2112.3, 2296.8]],
  xDomain: [-60, 30], xTicks: vTicks5, xPad: 23, xLab: 83, titleDy: 31, titles: titles5 };
const lay6 = { cols: [[2104.4, 2850.8], [3026.3, 3772.7]], rows: [[1333.7, 1516.8], [1587.6, 1770], [1841.6, 2023.2], [2094.8, 2277.2]],
  xDomain: [-60, 40], xTicks: vTicks6, xPad: 26, xLab: 95, titleDy: 33, titles: titles6 };

[[panels5, lay5], [panels6, lay6]].forEach(([ps, lay]) => {
  ps.forEach((p, k) => {
    const c = Math.floor(k / 4), r = k % 4;
    drawPanel(Object.assign({}, p, {
      L: lay.cols[c][0], R: lay.cols[c][1], T: lay.rows[r][0], B: lay.rows[r][1],
      xDomain: lay.xDomain, xTicks: lay.xTicks, xPad: lay.xPad, xLab: lay.xLab, titleDy: lay.titleDy,
      showX: r === 3, title: lay.titles[k], label: yLabels[k]
    }));
  });
});
</script>
</body></html>
